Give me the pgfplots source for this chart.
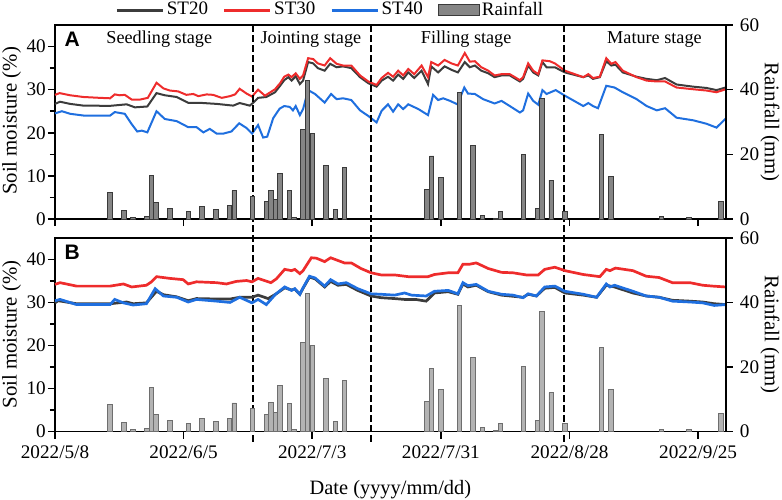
\documentclass[border=0pt]{standalone}
\usepackage{fontspec}
\setmainfont{Liberation Serif}
\newfontfamily\arial{Liberation Sans}
\usepackage{pgfplots}
\pgfplotsset{compat=1.18}
\usepackage{pgfplotstable}

\definecolor{cST20}{HTML}{3C3C3C}
\definecolor{cST30}{HTML}{EE2C2C}
\definecolor{cST40}{HTML}{1F6FDF}
\definecolor{barTop}{HTML}{858585}
\definecolor{barTopEdge}{HTML}{3A3A3A}
\definecolor{barBot}{HTML}{B3B3B3}
\definecolor{barBotEdge}{HTML}{6E6E6E}

% day 0 = 2022/5/8
\pgfplotstableread{
x y
12 8.3
15 2.6
17 0.6
20 0.9
21 13.5
22 5.2
25 3.3
29 2.4
32 3.9
35 3.0
38 4.1
39 8.8
43 7.1
46 5.3
47 8.9
48 5.9
49 14.2
51 8.7
52 0.5
54 27.6
55 42.8
56 26.5
59 16.5
61 3.0
63 15.9
81 9.2
82 19.5
84 12.9
88 39.2
91 22.8
93 1.1
96 0.3
97 2.4
102 20.1
105 3.3
106 37.3
108 12.0
111 2.4
119 26.0
121 13.1
132 0.7
138 0.5
145 5.4
}\rain

\pgfplotstableread{
x y
0 26.7
1.1 27.2
3.3 26.7
6.2 26.3
12 26.25
15.6 26.6
17.4 25.9
20.1 26.1
22.1 29.2
23.9 28.7
26.5 28.3
29 26.95
31.5 26.95
35.2 26.7
38.8 26.3
40.2 26.9
42.4 26.3
43.3 27.1
44.2 28.1
46 28.3
47.9 29.4
49 30.9
49.9 32.2
50.8 32.9
51.5 32.1
52.4 33.1
53.3 31.3
54 32.1
55.1 36.4
56.2 36.1
57.2 35.0
58.7 34.4
59.9 36.0
61.3 35.2
62.7 35.4
64.5 35.0
66.4 32.9
68.2 31.5
70.0 30.7
71.1 32.1
72.5 33.0
73.6 32.1
74.7 33.5
75.8 32.5
76.9 34.0
78.2 32.7
79.8 34.4
81.2 31.3
81.9 35.4
83.4 34.0
84.8 35.4
86.3 34.6
87.7 34.0
89.2 36.4
90.3 35.2
91.4 35.6
92.8 34.4
94.3 33.8
95.7 32.9
97.2 33.3
99 33.3
101.2 31.9
101.9 32.5
103 35.6
104.1 34.0
105.2 33.3
106.1 36.4
107 35.2
108.8 35.2
111 34.0
115 32.9
116.1 33.3
117.1 32.5
118.6 32.9
120 36.6
121.1 35.6
122 35.8
123.6 34.0
126.6 33.0
128.8 32.5
131 32.2
132.8 32.7
135.3 31.2
138.9 30.7
141.8 30.4
144 29.9
146 30.5
}\topA

\pgfplotstableread{
x y
0 28.8
1 29.2
3.3 28.7
6.2 28.3
9.8 28.1
12 28.0
13 28.9
14.1 28.7
15.2 28.8
16.7 27.7
18.5 27.7
20.2 28.1
22.1 31.6
23.6 30.3
25 29.8
26.8 29.6
28.6 28.8
30.1 29.0
31.2 28.5
33 28.9
34.4 28.8
36.3 28.1
38.1 28.5
39.2 28.9
40.2 30.2
41.7 29.1
42.9 28.4
44.2 30.0
45.7 28.6
47.9 30.1
49.0 31.5
49.9 33.0
50.8 33.5
51.5 32.9
52.4 33.8
53.3 32.5
54.0 33.3
55.1 37.3
56.2 37.1
57.2 36.1
58.7 35.6
59.9 37.3
61.3 36.0
62.7 35.6
64.5 35.6
66.4 33.3
68.2 31.9
70.0 31.1
71.1 32.7
72.5 33.9
73.6 33.0
74.7 34.4
75.8 33.3
76.9 34.8
78.2 33.6
79.8 35.6
81.2 32.9
81.9 36.4
83.4 35.6
84.8 36.9
86.3 36.1
87.7 35.6
89.2 38.5
90.3 36.5
91.4 36.6
92.8 35.2
94.3 34.4
95.7 33.3
97.2 33.6
99 33.6
101.2 32.2
101.9 32.9
103.0 36.1
104.1 34.4
105.2 33.6
106.1 36.8
107.7 36.6
108.8 36.1
111.0 34.4
115.0 32.9
116.1 33.6
117.1 32.7
118.6 33.0
120.0 37.3
121.1 36.0
122.0 36.4
123.6 34.4
126.6 32.9
128.8 32.1
131.0 31.9
132.8 31.9
135.3 30.5
138.9 30.1
141.8 29.8
144.0 29.4
146 30.1
}\topB

\pgfplotstableread{
x y
0 24.5
1.5 25.0
3.3 24.4
6.2 24.0
12 24.0
13 24.8
15.2 24.4
16.7 22.0
17.9 20.3
18.9 20.5
20.1 20.1
22.1 25.0
23.9 23.2
26.5 22.7
29 21.3
30.8 21.3
32.3 20.1
33.7 20.9
35.2 19.8
36.6 19.8
38.4 20.3
40.1 22.2
41.7 21.1
42.9 19.8
44.2 21.8
45.3 18.9
46.2 19.1
47.5 23.4
48.9 25.6
49.9 26.2
51.1 26.0
51.8 25.2
52.4 26.2
53.3 24.1
54 25.5
55.1 29.9
56.6 29.0
58.7 27.0
60.1 29.0
61.3 27.8
62.7 28.0
64.5 27.6
66.4 25.2
68.2 23.9
70 22.4
71.1 25.1
72.5 26.6
73.6 24.9
74.7 26.6
75.8 25.5
76.9 26.6
79.1 25.5
81.2 24.1
82.3 28.8
83.4 27.6
84.5 28.0
86 27.4
87.6 26.6
89.1 30.5
89.9 29.1
91.4 29.0
93.2 27.8
95.7 26.8
97.2 27.4
99 26.2
101.2 24.7
101.9 25.2
103 29.1
104.1 27.4
105.2 26.5
106.1 29.9
107 29.0
109 29.9
111 28.6
115 26.2
116.1 26.9
117.1 26.2
118.2 25.7
120 30.9
121.8 30.5
123.6 29.4
126.6 27.8
128.8 26.2
131 25.2
132.8 25.7
135.3 23.5
138.9 22.9
141.8 22.1
144 21.2
146 23.3
}\topC

\pgfplotstableread{
x y
0 29.9
0.7 30.4
4.7 29.7
12 29.7
15.6 30.1
17 29.7
19.9 29.9
22.1 32.6
23.6 31.8
26.5 31.3
29 30.4
30.8 30.9
35.2 30.8
38.1 30.8
40.2 31.2
42.9 31.2
44.2 31.7
46.4 30.9
48 31.9
50 33.4
51.5 32.9
52.2 33.1
53.3 31.9
54 33.3
55.4 35.9
56.6 35.5
58.7 33.6
60 34.9
61.6 34.0
63.4 34.2
65.9 32.8
68.8 31.5
71 31.1
73.9 30.9
76.1 30.7
78.5 30.7
80.8 30.3
82.6 32.2
85.6 32.5
87.7 31.9
88.8 34.3
89.9 33.6
91.7 34.0
94.3 32.5
97.2 31.7
101.9 31.2
103 31.9
104.8 31.5
106.6 33.3
108.8 33.5
111 32.2
115 31.7
117.9 31.2
120 34.0
121.8 33.6
125.8 32.2
128.7 31.5
131.5 31.2
134.4 30.5
138.2 30.3
141 30.1
143.5 29.7
146 29.5
}\botA

\pgfplotstableread{
x y
0 34.2
1.1 34.6
4.7 33.8
12 33.8
14.9 34.3
16.7 33.6
19.9 34.0
21 34.8
22.1 36.0
25 35.6
27.9 35.3
29 34.3
30.8 34.8
35.2 34.6
37.3 34.3
39.5 34.9
41.7 35.1
42.9 34.8
44.2 35.6
47.0 34.6
48.2 35.5
50 37.7
51.5 37.4
52.2 37.7
53.3 36.7
54 37.4
55.8 40.4
56.9 40.3
58.7 39.5
60 40.4
63 39.2
64.5 39.2
66.6 37.9
68.8 36.9
71 36.4
73.9 36.4
76.9 36.0
81.2 36.0
82.6 36.5
85.6 36.9
87.7 36.9
88.8 38.9
90.3 38.9
91.7 39.2
94.3 37.9
97.2 37.0
99.7 36.9
102.6 36.4
105.2 36.4
106.6 37.7
108.8 38.2
111 37.4
115 36.5
118.6 36.0
120 37.7
120.8 37.4
122 38.0
125.8 37.4
128.7 36.1
131.5 35.8
134.4 34.6
138.2 34.6
141 34.0
143.2 33.8
146 33.6
}\botB

\pgfplotstableread{
x y
0 30.4
1.1 30.7
4.7 29.5
12 29.5
13 30.7
14.9 29.9
17 29.4
19.9 29.7
21.8 33.2
23.6 31.5
26.5 31.2
29 30.1
30.8 30.7
35.2 30.3
38.1 30.0
40.2 31.2
42.9 29.9
44.2 30.7
46 29.5
48 31.9
50 33.6
51.5 32.8
52.2 33.2
53.3 31.9
54 33.4
55.4 36.1
56.6 35.7
58.7 33.8
60 35.3
61.6 34.3
63.4 34.6
65.9 33.2
68.8 32.0
71 31.9
73.9 31.7
76.1 32.2
77.6 31.7
80.8 31.5
82.6 32.6
85.6 32.8
87.7 32.0
88.8 34.6
89.9 33.9
91.7 34.2
94.3 32.6
97.2 31.9
99.7 31.7
101.9 31.1
103 32.0
104.8 31.5
106.6 33.6
108.8 33.8
111 32.6
115 31.9
117.9 31.2
120 34.3
120.8 33.6
121.8 34.0
125.8 32.6
128.7 31.5
131.5 31.2
134.4 30.3
138.2 30.1
141 29.9
143.5 29.3
146 29.5
}\botC

\tikzset{
  stage/.style={anchor=base, inner sep=0pt, font=\fontsize{9.1}{11}\selectfont},
  panelletter/.style={anchor=base west, inner sep=0pt, font=\fontsize{10.5}{12}\selectfont\arial\bfseries},
  vdash/.style={black, line width=0.7pt, dash pattern=on 3.3pt off 1.7pt},
}

\pgfplotsset{
  panel/.style={
    scale only axis, width=335.35pt, xmin=0, xmax=146,
    anchor=south west, tick align=outside,
    axis line style={line width=0.8pt, black},
    major tick style={line width=0.8pt, black},
    minor tick style={line width=0.8pt, black},
    major tick length=3.6pt, minor tick length=2.6pt,
    /pgf/number format/assume math mode=true,
    ticklabel style={font=\fontsize{9.6}{11}\selectfont},
  },
  leftax/.style={
    panel, ymin=0, ymax=45,
    ytick={0,10,20,30,40}, minor ytick={5,15,25,35},
    ytick pos=left,
    xtick={0,28,56,84,112,140}, xtick pos=bottom,
    yticklabel style={inner sep=0.8pt},
    clip=false,
  },
  rightax/.style={
    panel, ymin=0, ymax=60, ytick={0,20,40,60},
    axis y line*=right, axis x line=none,
  },
}

\begin{document}
\begin{tikzpicture}
\useasboundingbox (0pt,0pt) rectangle (391pt,-249.5pt);

% ---------- Panel A ----------
\begin{axis}[leftax, at={(27.5pt,-109.5pt)}, height=97pt,
  xticklabels={},
  legend style={at={(axis description cs:0.012,1.077)}, anchor=west, xshift=26pt,
    draw=none, fill=none, inner sep=0pt, legend columns=4,
    font=\fontsize{9.5}{11}\selectfont,
    /tikz/every even column/.append style={column sep=6.2pt},
    nodes={inner sep=1.2pt}},
  legend cell align=left,
  legend image code/.code={\draw[#1, line width=1.5pt] (0pt,0pt) -- (23pt,0pt);},
]
\addplot[cST20, line width=1pt] table {\topA};
\addplot[cST30, line width=1pt] table {\topB};
\addplot[cST40, line width=1pt] table {\topC};
\addlegendentry{ST20}
\addlegendentry{ST30}
\addlegendentry{ST40}
\addlegendimage{legend image code/.code={\draw[fill=barTop, draw=barTopEdge, line width=0.5pt] (0pt,-2.8pt) rectangle (20.5pt,2.8pt);}}
\addlegendentry{Rainfall}
\node[panelletter] at (axis cs:2.0,40.0) {A};
\node[stage] at (axis cs:22.7,40.7) {Seedling stage};
\node[stage] at (axis cs:55.7,40.7) {Jointing stage};
\node[stage] at (axis cs:89.5,40.7) {Filling stage};
\node[stage] at (axis cs:130.5,40.7) {Mature stage};
\draw[vdash] (axis cs:43.1,45) -- (axis cs:43.1,-52);
\draw[vdash] (axis cs:68.8,45) -- (axis cs:68.8,-52);
\draw[vdash] (axis cs:110.8,45) -- (axis cs:110.8,-52);
\end{axis}
\begin{axis}[rightax, at={(27.5pt,-109.5pt)}, height=97pt]
\addplot[ybar, bar width=0.95, fill=barTop, draw=barTopEdge, line width=0.45pt] table {\rain};
\end{axis}

% ---------- Panel B ----------
\begin{axis}[leftax, at={(27.5pt,-215.65pt)}, height=96.65pt,
  xticklabels={2022/5/8,2022/6/5,2022/7/3,2022/7/31,2022/8/28,2022/9/25},
]
\addplot[cST20, line width=1.35pt] table {\botA};
\addplot[cST30, line width=1.35pt] table {\botB};
\addplot[cST40, line width=1.35pt] table {\botC};
\node[panelletter] at (axis cs:2.0,40.0) {B};
\end{axis}
\begin{axis}[rightax, at={(27.5pt,-215.65pt)}, height=96.65pt]
\addplot[ybar, bar width=0.95, fill=barBot, draw=barBotEdge, line width=0.45pt] table {\rain};
\end{axis}

% ---------- axis titles ----------
\node[rotate=90, font=\fontsize{10.4}{12}\selectfont] at (5.8pt,-60.5pt) {Soil moisture (\%)};
\node[rotate=90, font=\fontsize{10.4}{12}\selectfont] at (5.8pt,-167.3pt) {Soil moisture (\%)};
\node[rotate=-90, font=\fontsize{10.4}{12}\selectfont] at (385pt,-61pt) {Rainfall (mm)};
\node[rotate=-90, font=\fontsize{10.4}{12}\selectfont] at (385pt,-167.3pt) {Rainfall (mm)};
\node[anchor=base, inner sep=0pt, font=\fontsize{10.2}{12}\selectfont] at (195.2pt,-247.3pt) {Date (yyyy/mm/dd)};
\end{tikzpicture}
\end{document}
